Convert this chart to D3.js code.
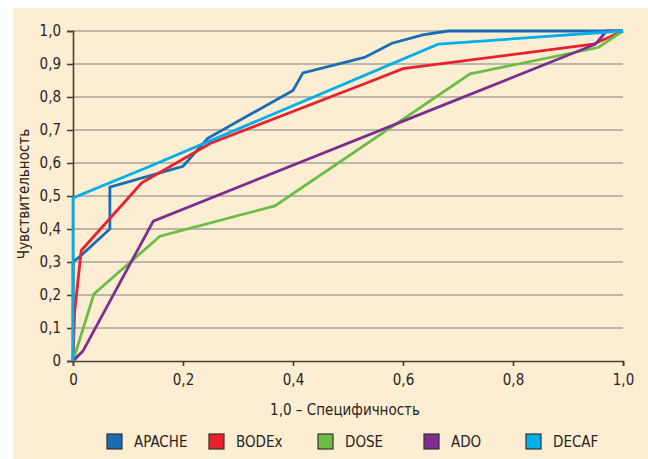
<!DOCTYPE html>
<html>
<head>
  <meta charset="utf-8">
  <script src="https://cdn.jsdelivr.net/npm/d3@7"></script>
  <style>
    body { margin: 0; background: #fff; }
    text { font-family: "Liberation Sans Narrow", "DejaVu Sans Condensed", "Liberation Sans", sans-serif; fill: #2a2320; }
  </style>
</head>
<body>
<script>
// данные ROC-кривых (1 - специфичность, чувствительность)
const seriesNames = ["APACHE", "BODEx", "DOSE", "ADO", "DECAF"];
const seriesColors = ["#1a6db3", "#e8212d", "#6bbd45", "#7d2f8f", "#02aeec"];

const apache = [[0, 0], [0, 0.30], [0.015, 0.32], [0.067, 0.40], [0.067, 0.527], [0.2, 0.59],
  [0.245, 0.675], [0.40, 0.82], [0.418, 0.873], [0.53, 0.92], [0.58, 0.963], [0.636, 0.988],
  [0.682, 1.0], [1, 1]];
const bodex = [[0, 0], [0.003, 0.15], [0.015, 0.335], [0.125, 0.54], [0.25, 0.66],
  [0.53, 0.84], [0.60, 0.886], [0.946, 0.96], [1, 1]];
const dose = [[0, 0], [0.038, 0.203], [0.158, 0.378], [0.367, 0.47], [0.722, 0.87],
  [0.955, 0.95], [1, 1]];
const ado = [[0, 0], [0.018, 0.03], [0.146, 0.424], [0.68, 0.78], [0.95, 0.96], [0.97, 1.0], [1, 1]];
const decaf = [[0, 0], [0, 0.494], [0.14, 0.59], [0.664, 0.96], [1, 1]];

const allSeries = [apache, bodex, dose, ado, decaf];

const xTicks = [0, 0.2, 0.4, 0.6, 0.8, 1.0];
const yTicks = [0, 0.1, 0.2, 0.3, 0.4, 0.5, 0.6, 0.7, 0.8, 0.9, 1.0];

const W = 648, H = 459;
const margin = { top: 31, right: 25, bottom: 98, left: 73 };
const w = W - margin.left - margin.right;
const h = H - margin.top - margin.bottom;

const fmt = v => v === 0 ? "0" : v.toFixed(1).replace(".", ",");

const svg = d3.select("body").append("svg")
  .attr("width", W)
  .attr("height", H);

// кремовый фон
svg.append("rect")
  .attr("x", 13).attr("y", 8)
  .attr("width", W - 13).attr("height", H - 8)
  .attr("fill", "#fdeed3");

const g = svg.append("g")
  .attr("transform", "translate(" + margin.left + "," + margin.top + ")");

const xScale = d3.scaleLinear().domain([0, 1]).range([0, w]);
const yScale = d3.scaleLinear().domain([0, 1]).range([h, 0]);

// сетка
g.selectAll("line.grid")
  .data(yTicks.filter(d => d > 0))
  .enter()
  .append("line")
  .attr("class", "grid")
  .attr("x1", 0).attr("x2", w)
  .attr("y1", d => yScale(d)).attr("y2", d => yScale(d))
  .attr("stroke", "#a7a39c")
  .attr("stroke-width", 1.5);

// оси
const xAxis = g.append("g")
  .attr("transform", "translate(0," + h + ")")
  .call(d3.axisBottom(xScale).tickValues(xTicks).tickFormat(fmt).tickSize(5).tickPadding(8));
const yAxis = g.append("g")
  .call(d3.axisLeft(yScale).tickValues(yTicks).tickFormat(fmt).tickSize(6).tickPadding(6));

[xAxis, yAxis].forEach(ax => {
  ax.select(".domain").attr("stroke", "#4a3d33").attr("stroke-width", 1.6);
  ax.selectAll(".tick line").attr("stroke", "#4a3d33").attr("stroke-width", 1.6);
  ax.selectAll(".tick text")
    .attr("fill", "#2a2320")
    .style("font-size", "15px")
    .style("font-family", "'Liberation Sans Narrow', 'DejaVu Sans Condensed', sans-serif");
});

// линии
const line = d3.line()
  .x(d => xScale(d[0]))
  .y(d => yScale(d[1]));

g.selectAll("path.roc")
  .data(allSeries)
  .enter()
  .append("path")
  .attr("class", "roc")
  .attr("d", line)
  .attr("fill", "none")
  .attr("stroke", (d, i) => seriesColors[i])
  .attr("stroke-width", 2.8)
  .attr("stroke-linejoin", "miter");

// подписи осей
svg.append("text")
  .attr("x", 345)
  .attr("y", 415)
  .attr("text-anchor", "middle")
  .style("font-size", "15px")
  .text("1,0 \u2013 Специфичность");

svg.append("text")
  .attr("transform", "translate(29,194) rotate(-90)")
  .attr("text-anchor", "middle")
  .style("font-size", "15px")
  .text("Чувствительность");

// легенда
const legendX = [107, 209, 318, 424, 526];
const legend = svg.selectAll("g.legend")
  .data(seriesNames)
  .enter()
  .append("g")
  .attr("class", "legend")
  .attr("transform", (d, i) => "translate(" + legendX[i] + ",434)");

legend.append("rect")
  .attr("width", 15).attr("height", 15)
  .attr("fill", (d, i) => seriesColors[i])
  .attr("stroke", "#3a2f28")
  .attr("stroke-width", 1.2);

legend.append("text")
  .attr("x", 27)
  .attr("y", 13)
  .style("font-size", "15px")
  .text(d => d);
</script>
</body>
</html>
